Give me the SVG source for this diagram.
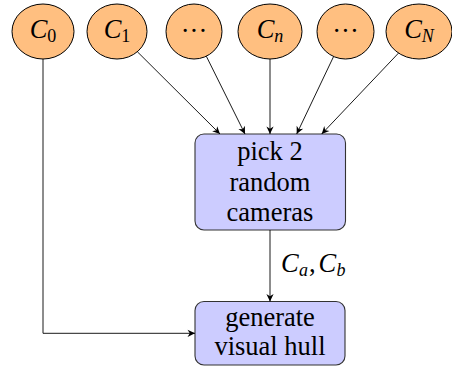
<svg xmlns="http://www.w3.org/2000/svg" width="452" height="368" viewBox="0 0 452 368" font-family="'Liberation Serif', 'Times New Roman', serif">
  <style>
    .cam ellipse { fill: #ffbf80; stroke: #000; stroke-width: 1; }
    .proc rect { fill: #ccccff; stroke: #333; stroke-width: 1.1; }
    text { font-family: 'Liberation Serif', 'Times New Roman', serif; font-size: 26.5px; fill: #000; }
    .proc text { text-anchor: middle; }
    .cam text { text-anchor: middle; }
    .it { font-style: italic; }
    .sub { font-size: 18px; }
    .edge { fill: none; stroke: #000; stroke-width: 0.9; marker-end: url(#tip); }
  </style>
  <defs>
    <marker id="tip" viewBox="-8 -4 9 8" refX="0" refY="0" markerWidth="9" markerHeight="8" markerUnits="userSpaceOnUse" orient="auto">
      <path d="M0,0 L-7.5,-3.6 L-5.2,0 L-7.5,3.6 Z" fill="#000"/>
    </marker>
  </defs>

  <!-- camera nodes -->
  <g id="cam0" class="cam">
    <ellipse cx="43" cy="31.5" rx="31" ry="27.5"/>
    <text x="43" y="38"><tspan class="it">C</tspan><tspan class="sub" dy="4">0</tspan></text>
  </g>
  <g id="cam1" class="cam">
    <ellipse cx="117" cy="31.5" rx="30" ry="27.5"/>
    <text x="117" y="38"><tspan class="it">C</tspan><tspan class="sub" dy="4">1</tspan></text>
  </g>
  <g id="camDotsA" class="cam">
    <ellipse cx="194" cy="31.5" rx="28" ry="27.5"/>
    <text x="194" y="40">···</text>
  </g>
  <g id="camNsmall" class="cam">
    <ellipse cx="270" cy="31.5" rx="32" ry="27.5"/>
    <text x="270" y="38"><tspan class="it">C</tspan><tspan class="sub it" dy="4">n</tspan></text>
  </g>
  <g id="camDotsB" class="cam">
    <ellipse cx="345.5" cy="31.5" rx="28.5" ry="27.5"/>
    <text x="345.5" y="40">···</text>
  </g>
  <g id="camN" class="cam">
    <ellipse cx="419" cy="31.5" rx="33" ry="27.5"/>
    <text x="419" y="38"><tspan class="it">C</tspan><tspan class="sub it" dy="4">N</tspan></text>
  </g>

  <!-- process nodes -->
  <g id="pick" class="proc">
    <rect x="195" y="134" width="150.5" height="96" rx="9" ry="9"/>
    <text x="270" y="160">pick 2</text>
    <text x="270" y="190.7">random</text>
    <text x="270" y="221.3">cameras</text>
  </g>
  <g id="hull" class="proc">
    <rect x="195" y="301.5" width="150" height="63.5" rx="9" ry="9"/>
    <text x="270" y="326">generate</text>
    <text x="270" y="355">visual hull</text>
  </g>

  <!-- connectors -->
  <g id="connectors">
    <path class="edge" d="M137.3,51.7 L220,134"/>
    <path class="edge" d="M206.3,56.2 L245,134"/>
    <path class="edge" d="M270,59 L270,134"/>
    <path class="edge" d="M333.6,56.5 L296.7,134"/>
    <path class="edge" d="M398.5,53.1 L321.7,134"/>
    <path class="edge" d="M270,230 L270,301.5"/>
    <path class="edge" d="M43,59 L43,333.3 L195,333.3"/>
    <text y="272"><tspan class="it" x="281">C</tspan><tspan class="sub it" x="299" dy="4">a</tspan><tspan x="309" dy="-4">,</tspan><tspan class="it" x="318.5">C</tspan><tspan class="sub it" x="336.5" dy="4">b</tspan></text>
  </g>
</svg>
